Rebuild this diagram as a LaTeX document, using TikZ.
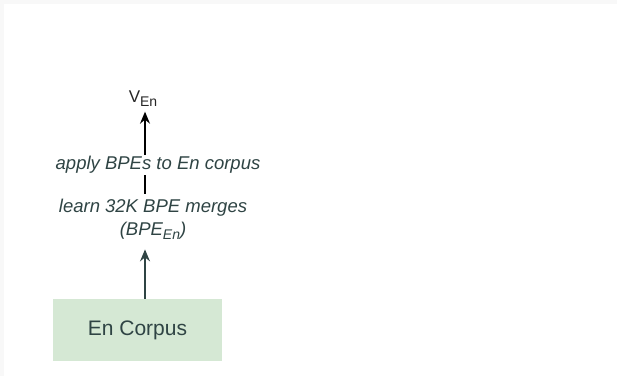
\documentclass[tikz,border=0pt]{standalone}
\usepackage{fontspec}
\setmainfont{Liberation Sans}
\usetikzlibrary{arrows.meta,positioning,calc}
\definecolor{slate}{HTML}{2F4444}
\definecolor{corpusgreen}{HTML}{D5E8D4}
\definecolor{pagegray}{HTML}{F8F8F8}

\begin{document}
\begin{tikzpicture}[x=1pt, y=-1pt,
        corpus/.style = {fill=corpusgreen, text=slate, inner sep=0pt,
                         minimum width=169pt, minimum height=62pt,
                         font=\fontsize{21}{25}\selectfont},
        stage/.style  = {text=slate, align=center, inner sep=0pt,
                         font=\fontsize{18.5}{23}\selectfont\itshape},
        vocab/.style  = {text=black!85, inner sep=0pt,
                         font=\fontsize{17}{20}\selectfont},
        feed/.style   = {-{Stealth[length=12pt, width=10pt, inset=4pt]}, line width=1.3pt, slate},
        apply/.style  = {-{Stealth[length=12pt, width=10pt, inset=4pt]}, line width=1.3pt, black}
    ]
        % ---- page ----
        \useasboundingbox (0,0) rectangle (617,376);
        \fill[pagegray] (0,0) rectangle (617,376);
        \fill[white] (4,4) rectangle (617,376);

        % ---- corpus and its vocabulary ----
        \node[corpus] (corpus) at (137.5,330) {En Corpus};
        \node[stage] (learn) at (153,219)
            {learn 32K BPE merges\\(BPE\raisebox{-4pt}{\fontsize{14}{14}\selectfont En})};
        \node[vocab, anchor=base] (vocab) at (143,102)
            {V\raisebox{-4.5pt}{\fontsize{14}{14}\selectfont En}};
        \coordinate (spine) at ([xshift=7.5pt]corpus.north);

        % ---- arrows ----
        \draw[feed] (spine) -- ($(spine |- learn.south)+(0,-10pt)$);
        \draw[apply] ($(spine |- learn.north)+(0,5pt)$) -- ($(spine |- vocab.south)+(0,-5pt)$)
            node[stage, pos=0.35, xshift=13pt, fill=white, inner sep=1pt] {apply BPEs to En corpus};
    \end{tikzpicture}
\end{document}
